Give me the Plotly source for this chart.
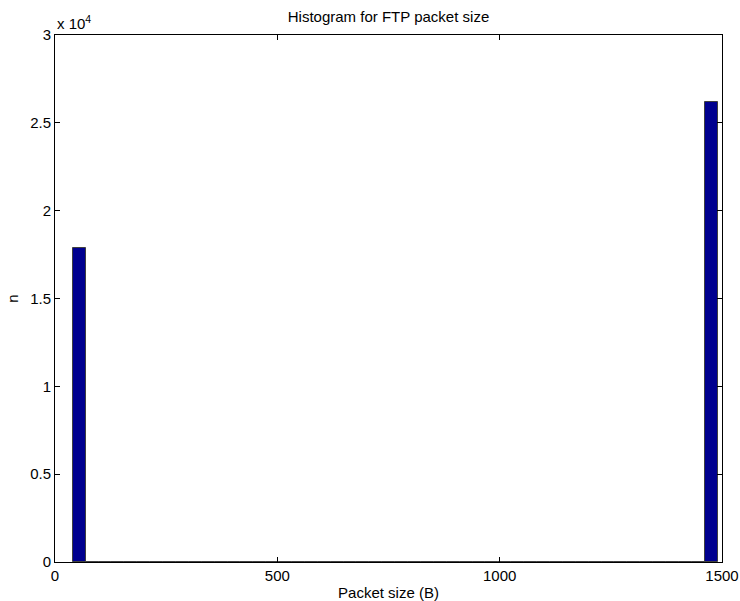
import numpy as np
import plotly.graph_objects as go

# Histogram of FTP packet sizes: 50 equal-width bins between 40 B and 1490 B
bin_lo = 40
bin_hi = 1490
n_bins = 50
counts = [17900, 0, 0, 0, 0, 0, 0, 0, 0, 0,
          0, 0, 0, 0, 0, 0, 0, 0, 0, 0,
          0, 0, 0, 0, 0, 0, 0, 0, 0, 0,
          0, 0, 0, 0, 0, 0, 0, 0, 0, 0,
          0, 0, 0, 0, 0, 0, 0, 0, 0, 26200]

x_ticks = [0, 500, 1000, 1500]
y_ticks = [0, 5000, 10000, 15000, 20000, 25000, 30000]
y_tick_labels = ["0", "0.5", "1", "1.5", "2", "2.5", "3"]

edges = np.linspace(bin_lo, bin_hi, n_bins + 1)
centers = (edges[:-1] + edges[1:]) / 2
width = edges[1] - edges[0]

FS = 15
font = dict(family="Liberation Sans, Arial, sans-serif", size=FS, color="black")

fig = go.Figure(go.Bar(
    x=centers, y=counts, width=width,
    marker=dict(color="#00008F", line=dict(color="#404040", width=1)),
    showlegend=False,
))

axis_common = dict(
    showline=True, linecolor="black", linewidth=1, mirror="allticks",
    ticks="inside", ticklen=5, tickcolor="black", showgrid=False,
    zeroline=False, tickfont=font, automargin=False,
)

fig.update_layout(
    template="none",
    width=740, height=601,
    margin=dict(l=55, r=18, t=35, b=39),
    paper_bgcolor="white", plot_bgcolor="white",
    font=font, bargap=0,
    title=dict(text="Histogram for FTP packet size", xref="paper", x=0.5,
               xanchor="center", yref="container", y=1 - 17 / 601,
               yanchor="middle", font=dict(size=FS)),
    xaxis=dict(range=[0, 1500], tickvals=x_ticks,
               title=dict(text="Packet size (B)", standoff=4, font=dict(size=FS)),
               **axis_common),
    yaxis=dict(range=[0, 30000], tickvals=y_ticks, ticktext=y_tick_labels,
               title=dict(text="n", standoff=7, font=dict(size=FS)),
               **axis_common),
    annotations=[dict(text="x 10<sup>4</sup>", xref="paper", yref="paper",
                      x=0.0, y=1.0, xanchor="left", yanchor="bottom",
                      showarrow=False, font=dict(size=FS), yshift=1)],
)

fig.write_html("out.html")
